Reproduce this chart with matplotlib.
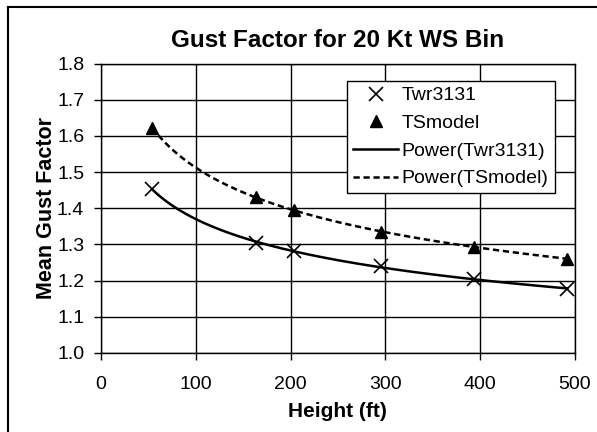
import numpy as np
import matplotlib
matplotlib.use("Agg")
from matplotlib import pyplot as plt
from matplotlib.lines import Line2D

plt.rcParams['font.family'] = ['Liberation Sans', 'DejaVu Sans']

# Height (ft) and mean gust factor values
heights = [54, 164, 204, 295, 394, 492]
twr3131 = [1.452, 1.305, 1.283, 1.239, 1.204, 1.176]
tsmodel = [1.622, 1.430, 1.395, 1.335, 1.294, 1.259]

xTicks = [0, 100, 200, 300, 400, 500]
yTicks = [1.0, 1.1, 1.2, 1.3, 1.4, 1.5, 1.6, 1.7, 1.8]


def powerFit(x, y):
    # Excel style power trendline: linear fit in log-log space
    b, loga = np.polyfit(np.log(x), np.log(y), 1)
    return np.exp(loga), b


fig = plt.figure(figsize=(5.97, 4.32), dpi=100)
ax = fig.add_axes([0.169, 0.183, 0.794, 0.670])

xs = np.linspace(min(heights), max(heights), 200)
a1, b1 = powerFit(heights, twr3131)
a2, b2 = powerFit(heights, tsmodel)

ax.plot(heights, twr3131, linestyle="none", marker="x", markersize=10, markeredgewidth=1.2,
        color="black", label="Twr3131", zorder=4)
ax.plot(heights, tsmodel, linestyle="none", marker="^", markersize=9, color="black",
        label="TSmodel", zorder=4)
ax.plot(xs, a1 * xs ** b1, color="black", linewidth=1.8, label="Power(Twr3131)", zorder=3)
ax.plot(xs, a2 * xs ** b2, color="black", linewidth=1.8, linestyle=(0, (2.5, 1.5)),
        label="Power(TSmodel)", zorder=3)

ax.set_xlim(0, 500)
ax.set_ylim(1.0, 1.8)
ax.set_xticks(xTicks)
ax.set_yticks(yTicks)
ax.set_yticklabels(["%.1f" % v for v in yTicks])
ax.tick_params(direction="out", length=5, width=1, labelsize=14, colors="black")
ax.tick_params(axis="y", pad=7)
ax.tick_params(axis="x", pad=11.5)
ax.grid(True, color="black", linewidth=1)
ax.set_axisbelow(True)
for s in ax.spines.values():
    s.set_linewidth(1)
    s.set_color("black")

ax.set_title("Gust Factor for 20 Kt WS Bin", fontsize=17.5, fontweight="bold", pad=12)
ax.set_xlabel("Height (ft)", fontsize=15, fontweight="bold", labelpad=6.5)
ax.set_ylabel("Mean Gust Factor", fontsize=15.5, fontweight="bold", labelpad=0)

leg = ax.legend(loc="upper left", bbox_to_anchor=(0.52, 0.94), fontsize=14, frameon=True,
                fancybox=False, edgecolor="black", framealpha=1, handlelength=2.3,
                handletextpad=0.2, borderpad=0.3, labelspacing=0.52, borderaxespad=0)
leg.get_frame().set_linewidth(1)

# scanned page border (top and left edges only)
fig.add_artist(Line2D([8 / 597, 8 / 597], [0, 1 - 7 / 432], color="black", linewidth=1.5,
                      transform=fig.transFigure))
fig.add_artist(Line2D([8 / 597, 1], [1 - 7 / 432, 1 - 7 / 432], color="black", linewidth=1.5,
                      transform=fig.transFigure))

fig.savefig("out.png", dpi=100)
